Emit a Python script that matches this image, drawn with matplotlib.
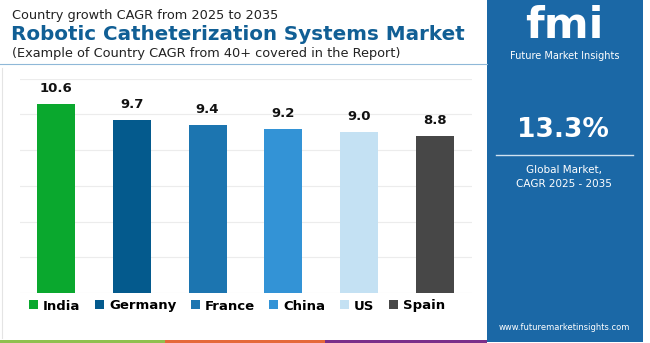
import numpy as np
import matplotlib.pyplot as plt
from matplotlib.patches import Patch, Rectangle
from matplotlib.lines import Line2D

countries = ['India', 'Germany', 'France', 'China', 'US', 'Spain']
cagr = [10.6, 9.7, 9.4, 9.2, 9.0, 8.8]
colores = ['#0aa82e', '#045a8d', '#1c75b0', '#3393d6', '#c4e1f3', '#474747']
global_cagr = '13.3%'

W, H = 650, 343
fig = plt.figure(figsize=(W / 100, H / 100), dpi=100)
fig.patch.set_facecolor('white')


def fx(x):
    return x / W


def fy(y):
    return 1 - y / H


# chart area
ax = fig.add_axes([fx(20), fy(293), fx(472) - fx(20), fy(78.5) - fy(293)])
x = np.arange(len(countries))
ax.bar(x, cagr, width=0.5, color=colores, zorder=3)
for i in range(len(cagr)):
    ax.text(x[i], cagr[i] + 0.5, '%.1f' % cagr[i], ha='center', va='bottom',
            fontsize=9.5, fontweight='bold', color='#111111')
ax.set_ylim(0, 12)
ax.set_xlim(-0.474, 5.487)
ax.set_yticks(np.arange(0, 13, 2))
ax.grid(axis='y', color='#ececec', linewidth=0.8, zorder=0)
ax.tick_params(left=False, bottom=False, labelleft=False, labelbottom=False)
for s in ax.spines.values():
    s.set_visible(False)

handles = [Patch(facecolor=c, edgecolor='none') for c in colores]
leg = fig.legend(handles, countries, ncol=6, loc='center',
                 bbox_to_anchor=(fx(237), fy(306)), frameon=False,
                 prop={'weight': 'bold', 'size': 9.5},
                 handlelength=0.68, handleheight=0.68, handletextpad=0.38,
                 columnspacing=1.1)

# titles
fig.text(fx(12), fy(15), 'Country growth CAGR from 2025 to 2035', fontsize=9.3,
         color='#222222', va='center')
fig.text(fx(11), fy(34), 'Robotic Catheterization Systems Market', fontsize=14.3,
         fontweight='bold', color='#115f95', va='center')
fig.text(fx(12), fy(53), '(Example of Country CAGR from 40+ covered in the Report)',
         fontsize=9.3, color='#222222', va='center')
fig.add_artist(Line2D([fx(0), fx(487)], [fy(64), fy(64)], color='#8fb8d8', linewidth=0.8))
fig.add_artist(Line2D([fx(2), fx(2)], [fy(68), fy(338)], color='#e4e4e4', linewidth=0.8))

# bottom strips
fig.add_artist(Rectangle((fx(0), 0), fx(165), fy(340), color='#8fc04f', lw=0))
fig.add_artist(Rectangle((fx(165), 0), fx(160), fy(340), color='#e5693a', lw=0))
fig.add_artist(Rectangle((fx(325), 0), fx(162), fy(340), color='#7a2f8a', lw=0))

# side panel
fig.add_artist(Rectangle((fx(487), fy(342)), fx(156), fy(0) - fy(342), color='#1b68a6', lw=0))
fig.text(fx(564), fy(26), 'fmi', fontsize=31, fontweight='bold', color='white',
         ha='center', va='center')
fig.text(fx(565), fy(56), 'Future Market Insights', fontsize=7, color='white',
         ha='center', va='center')
fig.text(fx(563), fy(130), global_cagr, fontsize=19, fontweight='bold', color='white',
         ha='center', va='center')
fig.add_artist(Line2D([fx(496), fx(633)], [fy(155), fy(155)], color='#d0e2f0', linewidth=1))
fig.text(fx(564), fy(170), 'Global Market,', fontsize=7.5, color='white',
         ha='center', va='center')
fig.text(fx(564), fy(184), 'CAGR 2025 - 2035', fontsize=7.5, color='white',
         ha='center', va='center')
fig.text(fx(564), fy(327), 'www.futuremarketinsights.com', fontsize=6, color='white',
         ha='center', va='center')

plt.savefig('out.png', dpi=100)
